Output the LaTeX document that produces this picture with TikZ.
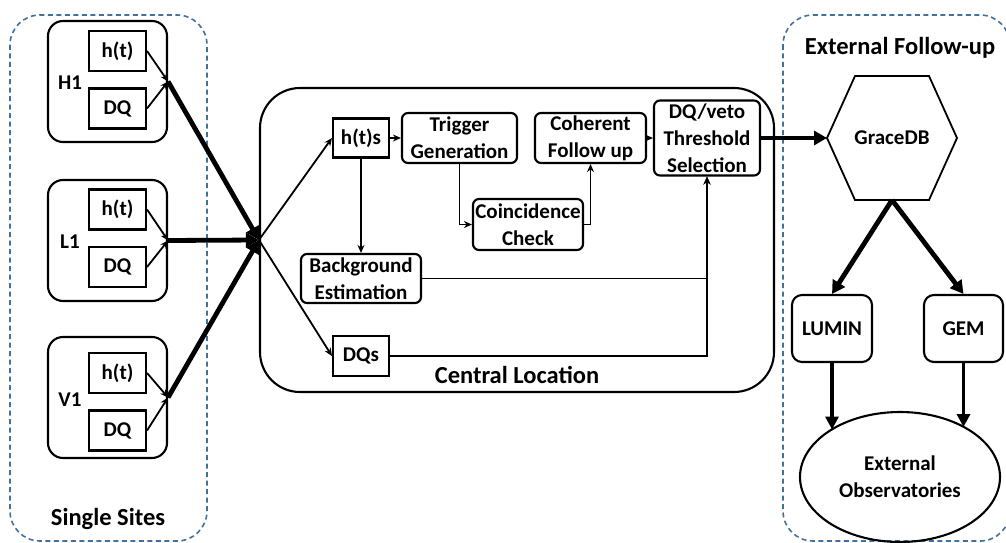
\documentclass[tikz,border=0pt]{standalone}
\usepackage{fontspec}
\setmainfont{Carlito}
\usetikzlibrary{arrows.meta,calc,shapes.geometric}
\definecolor{dashblue}{HTML}{41719C}

\begin{document}
\begin{tikzpicture}[x=1pt,y=-1pt,
  txt/.style={font=\bfseries\fontsize{21}{27}\selectfont, align=center},
  big/.style={font=\bfseries\fontsize{24.5}{29}\selectfont},
  sitebox/.style={draw, line width=2.1pt, rounded corners=15pt, minimum width=119pt, minimum height=121pt, inner sep=0pt},
  sigbox/.style={txt, draw, line width=2.1pt, minimum width=57pt, minimum height=40pt, inner sep=0pt},
  procbox/.style={txt, draw, line width=2.1pt, rounded corners=6pt, inner sep=0pt},
  region/.style={draw=dashblue, line width=1.6pt, dash pattern=on 5pt off 3.5pt, rounded corners=30pt},
  flow/.style={line width=1.8pt, -{Stealth[length=8pt,width=7pt]}},
  bigflow/.style={line width=4.8pt, -{Triangle[length=13pt,width=14pt]}},
  midflow/.style={line width=3.8pt, -{Triangle[length=13pt,width=13pt]}},
]
\useasboundingbox (0,0) rectangle (1006,543);
\clip (0,0) rectangle (1006,543);

% dashed regions
\draw[region] (10,15) rectangle (207,541);
\draw[region] (783,15) rectangle (1010,541);
\node[big] (sitestitle) at (108,519) {Single Sites};
\node[big] (exttitle) at (900,48) {External Follow-up};

% detector sites
\node[sitebox] (H1) at (107.5,81.5) {};
\node[txt] (H1lab) at (70,83) {H1};
\node[sigbox] (H1h) at (117.5,51) {h(t)};
\node[sigbox] (H1d) at (117.5,108.5) {DQ};

\node[sitebox] (L1) at (107.5,240.5) {};
\node[txt] (L1lab) at (70,242) {L1};
\node[sigbox] (L1h) at (117.5,209.5) {h(t)};
\node[sigbox] (L1d) at (117.5,267) {DQ};

\node[sitebox] (V1) at (107.5,397.5) {};
\node[txt] (V1lab) at (70,400) {V1};
\node[sigbox] (V1h) at (117.5,373) {h(t)};
\node[sigbox] (V1d) at (117.5,430.5) {DQ};

\foreach \s in {H1,L1,V1} {
  \draw[flow] (\s h.east) -- (\s.east);
  \draw[flow] (\s d.east) -- (\s.east);
}

% central location
\node[draw, line width=2.1pt, rounded corners=40pt, minimum width=514pt, minimum height=304pt, inner sep=0pt] (central) at (517,240) {};
\node[big] (centrallab) at (517,375) {Central Location};

\foreach \s in {H1,L1,V1}
  \draw[bigflow] (\s.east) -- (central.west);

\node[sigbox, minimum width=56pt, minimum height=39pt] (hts) at (361,138) {h(t)s};
\node[procbox, minimum width=115pt, minimum height=50pt] (trig) at (459.5,138) {Trigger\\Generation};
\node[procbox, minimum width=111pt, minimum height=50pt] (coh) at (590.5,138) {Coherent\\Follow up};
\node[procbox, minimum width=106pt, minimum height=75pt] (veto) at (707,138) {DQ/veto\\Threshold\\Selection};
\node[procbox, minimum width=110pt, minimum height=51pt] (coin) at (528,224.5) {Coincidence\\Check};
\node[procbox, minimum width=120pt, minimum height=49pt] (bg) at (361,278.5) {Background\\Estimation};
\node[sigbox, minimum width=56pt, minimum height=40pt] (dqs) at (361,356) {DQs};

\draw[flow] (central.west) -- (hts.west);
\draw[flow] (central.west) -- (dqs.west);
\draw[flow] (hts.east) -- (trig.west);
\draw[flow] (hts.south) -- (bg.north);
\draw[flow] (trig.south) |- (coin.west);
\draw[flow] (coin.east) -| (coh.south);
\draw[flow] (coh.east) -- (veto.west);
\draw[flow] (bg.east) -| (veto.south);
\draw[flow] (dqs.east) -| (veto.south);

% external follow-up
\node[txt] (grace) at (892,138) {GraceDB};
\draw[line width=1.8pt, line join=miter]
  ($(grace)+(-65,0)$) -- ($(grace)+(-37,-62)$) -- ($(grace)+(37,-62)$)
  -- ($(grace)+(65,0)$) -- ($(grace)+(37,62)$) -- ($(grace)+(-37,62)$) -- cycle;
\coordinate (graceW) at ($(grace)+(-65,0)$);
\coordinate (graceS) at ($(grace)+(0,62)$);

\draw[bigflow] (veto.east) -- (graceW);

\node[procbox, rounded corners=10pt, minimum width=80pt, minimum height=67pt] (lumin) at (832,328.5) {LUMIN};
\node[procbox, rounded corners=10pt, minimum width=79pt, minimum height=67pt] (gem) at (963.5,328.5) {GEM};
\node[txt, draw, ellipse, line width=2.1pt, minimum width=200pt, minimum height=130pt, inner sep=0pt] (obs) at (900,477) {External\\Observatories};

\coordinate (obsL) at (832,429.5);
\coordinate (obsR) at (963.5,427);

\draw[bigflow] (graceS) -- (lumin.north);
\draw[bigflow] (graceS) -- (gem.north);
\draw[midflow] (lumin.south) -- (obsL);
\draw[midflow] (gem.south) -- (obsR);
\end{tikzpicture}
\end{document}
